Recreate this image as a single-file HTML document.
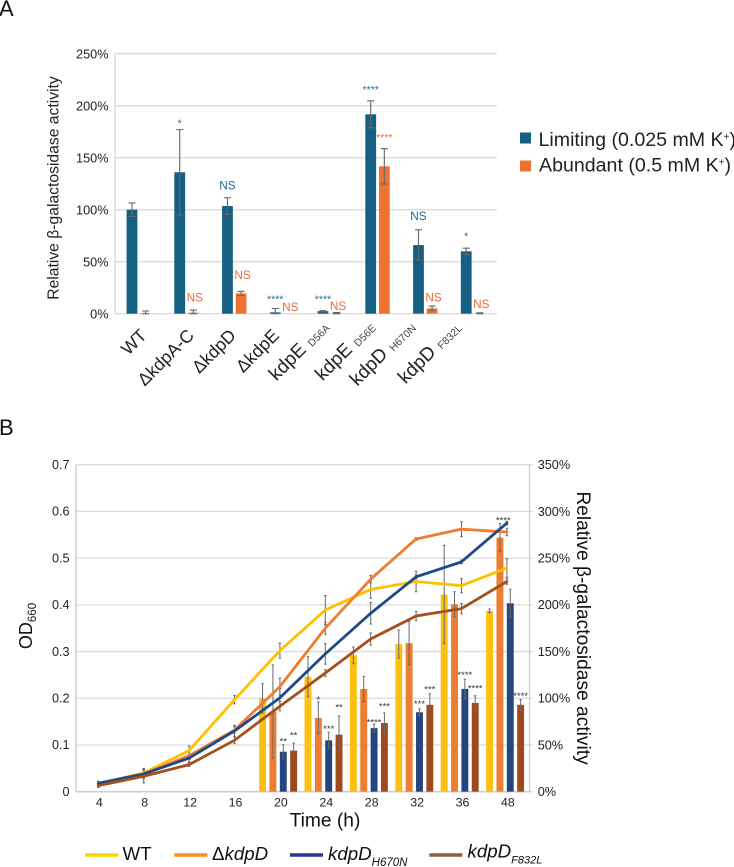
<!DOCTYPE html>
<html lang="en">
<head>
<meta charset="utf-8">
<title>Relative β-galactosidase activity and growth</title>
<style>
html,body{margin:0;padding:0;background:#fff;width:734px;height:867px;overflow:hidden}
svg{display:block;font-family:"Liberation Sans",Arial,sans-serif}
</style>
</head>
<body>
<svg id="fig" xmlns="http://www.w3.org/2000/svg" width="734" height="867" viewBox="0 0 734 867">
  <text x="-1" y="16" font-size="22" fill="#111">A</text>
  <text x="-1" y="435" font-size="22" fill="#111">B</text>

  <g id="chartA"></g>
  <text transform="translate(58.5,188) rotate(-90)" text-anchor="middle" font-size="15.7" fill="#222">Relative β-galactosidase activity</text>

  <g>
    <rect x="520" y="132.5" width="11" height="11" fill="#156082"/>
    <text x="538.5" y="146" font-size="19.6" fill="#222">Limiting (0.025 mM K<tspan font-size="10" dy="-6">+</tspan><tspan dy="6">)</tspan></text>
    <rect x="520" y="160.5" width="11" height="11" fill="#ed7430"/>
    <text x="539" y="171.7" font-size="19.6" fill="#222">Abundant (0.5 mM K<tspan font-size="10" dy="-6">+</tspan><tspan dy="6">)</tspan></text>
  </g>

  <g id="chartB"></g>
  <text transform="translate(32,626) rotate(-90)" text-anchor="middle" font-size="18" fill="#111">OD<tspan font-size="11.5" dy="4">660</tspan></text>
  <text transform="translate(577,628) rotate(90)" text-anchor="middle" font-size="19.2" fill="#111">Relative β-galactosidase activity</text>
  <text x="325" y="826.5" text-anchor="middle" font-size="19.2" fill="#111">Time (h)</text>

  <g>
    <line x1="85" x2="118.3" y1="855" y2="855" stroke="#ffd400" stroke-width="3.4"/>
    <text x="122.5" y="860" font-size="18.7" fill="#111">WT</text>
    <line x1="174.3" x2="207.3" y1="855" y2="855" stroke="#f7931e" stroke-width="3.4"/>
    <text x="212" y="860" font-size="18.7" fill="#111">Δ<tspan font-style="italic">kdpD</tspan></text>
    <line x1="290" x2="323" y1="855" y2="855" stroke="#2e3192" stroke-width="3.4"/>
    <text x="328" y="860" font-size="18.7" font-style="italic" fill="#111">kdpD<tspan font-size="11.5" dy="6">H670N</tspan></text>
    <line x1="429.3" x2="462.3" y1="855" y2="855" stroke="#8c6239" stroke-width="3.4"/>
    <text x="467.5" y="857.5" font-size="18.7" font-style="italic" fill="#111">kdpD<tspan font-size="11" dy="6">F832L</tspan></text>
  </g>
</svg>

<script>
// ---- Chart A data ----
const aCategories = ['WT', 'ΔkdpA-C', 'ΔkdpD', 'ΔkdpE', 'kdpE', 'kdpE', 'kdpD', 'kdpD'];
const aSubscripts = ['', '', '', '', 'D56A', 'D56E', 'H670N', 'F832L'];
const aTicks = [0, 50, 100, 150, 200, 250];
const aLimiting = [100, 136, 103.5, 1.3, 2.4, 191.7, 66, 60];
const aLimitingErr = [6.5, 41, 8, 3.7, 0.5, 13, 14.7, 3];
const aAbundant = [0.2, 1, 19.5, 0, 0.3, 141.7, 5.1, 0.1];
const aAbundantErr = [2.4, 2.5, 2, 0, 0.8, 17, 2.2, 0.8];
const aNoteCategory = [1, 2, 2, 1, 3, 3, 4, 4, 5, 5, 6, 6, 7, 7];
const aNoteSeries = [0, 0, 1, 1, 0, 1, 0, 1, 0, 1, 0, 1, 0, 1];
const aNoteText = ['*', 'NS', 'NS', 'NS', '****', 'NS', '****', 'NS', '****', '****', 'NS', 'NS', '*', 'NS'];
const aNoteLevel = [185, 123.5, 37.5, 16, 15.5, 6.5, 15.5, 7.5, 217, 171, 94, 16, 76, 9.5];

// ---- Chart B data ----
const bTimes = ['4', '8', '12', '16', '20', '24', '28', '32', '36', '48'];
const bLeftTicks = ['0', '0.1', '0.2', '0.3', '0.4', '0.5', '0.6', '0.7'];
const bRightTicks = ['0%', '50%', '100%', '150%', '200%', '250%', '300%', '350%'];
const bSeriesNames = ['wt', 'delta-kdpd', 'kdpd-h670n', 'kdpd-f832l'];
const odWT = [0.017, 0.04, 0.088, 0.197, 0.302, 0.389, 0.433, 0.45, 0.441, 0.479];
const odDelta = [0.014, 0.038, 0.077, 0.132, 0.225, 0.35, 0.455, 0.541, 0.562, 0.556];
const odH670N = [0.018, 0.038, 0.072, 0.13, 0.201, 0.295, 0.382, 0.46, 0.492, 0.575];
const odF832L = [0.013, 0.033, 0.058, 0.11, 0.183, 0.254, 0.327, 0.376, 0.392, 0.45];
const odWTErr = [0.005, 0.01, 0.01, 0.009, 0.016, 0.031, 0.019, 0.022, 0.015, 0.02];
const odDeltaErr = [0.005, 0.008, 0.008, 0.008, 0.018, 0.013, 0.008, 0.003, 0.016, 0.008];
const odH670NErr = [0.004, 0.01, 0.008, 0.012, 0.02, 0.022, 0.023, 0.004, 0.004, 0.004];
const odF832LErr = [0.004, 0.014, 0.004, 0.007, 0.01, 0.007, 0.013, 0.01, 0.011, 0.006];
const barGroups = ['20', '24', '28', '32', '36', '48'];
const barWT = [100, 123, 146, 158, 211, 193.5];
const barDelta = [85.7, 79, 110, 159, 200.6, 272];
const barH670N = [42.8, 55, 68, 85, 110, 201.7];
const barF832L = [44, 61, 73.5, 93, 95, 93];
const barWTErr = [15.7, 21.6, 9, 15, 52.7, 2];
const barDeltaErr = [50, 17, 13.4, 23, 13.4, 15];
const barH670NErr = [7.5, 8.6, 4.5, 3.6, 10.4, 15];
const barF832LErr = [8, 20, 10.7, 12, 7.7, 5.7];
const starGroup = [0, 0, 1, 1, 1, 2, 2, 3, 3, 4, 4, 5, 5];
const starSeries = [2, 3, 1, 2, 3, 2, 3, 2, 3, 2, 3, 2, 3];
const starText = ['**', '**', '*', '***', '**', '****', '***', '***', '***', '****', '****', '****', '****'];
const starLevel = [56.4, 63, 100.6, 70, 93, 76.8, 94, 96.4, 112, 127.4, 113, 293, 105];

// ---- helpers ----
const NS_URI = 'http://www.w3.org/2000/svg';
function mk(parent, tag, attrs, txt) {
  const el = document.createElementNS(NS_URI, tag);
  for (const k in attrs) el.setAttribute(k, attrs[k]);
  if (txt !== undefined) el.textContent = txt;
  parent.appendChild(el);
  
  return el;
}

// ---- Chart A ----
(function () {
  const g = document.getElementById('chartA');
  const x0 = 115, x1 = 497, y0 = 313.7, pxPerPct = 1.04;
  const band = (x1 - x0) / aCategories.length;
  const yA = v => y0 - v * pxPerPct;
  const center = i => x0 + band * (i + 0.5);
  const barX = (i, s) => center(i) + (s === 0 ? -6.9 : 6.7);
  const colors = ['#156082', '#ed7430'];
  const noteColors = ['#1f6a8c', '#f0683a'];
  const endNudge = [9, 8.4, 2.6, -2, 0, -1.6, -9.4, -11];

  aTicks.forEach(t => {
    const ln = mk(g, 'line', { x1: x0, x2: x1, y1: yA(t), y2: yA(t), stroke: '#dcdcdc', 'stroke-width': 1.4 });
    
    const lb = mk(g, 'text', { x: 108.5, y: yA(t) + 4.6, 'text-anchor': 'end', 'font-size': 12.7, fill: '#222' }, t + '%');
    
  });
  const axis = mk(g, 'line', { x1: x0, x2: x0, y1: yA(250), y2: y0, stroke: '#dcdcdc', 'stroke-width': 1.4 });
  

  function bars(vals, errs, s, nm) {
    vals.forEach((v, i) => {
      const cx = barX(i, s);
      const r = mk(g, 'rect', { x: cx - 5.4, y: yA(v), width: 10.8, height: v * pxPerPct, fill: colors[s] });
      
      if (errs[i] > 0) {
        const top = yA(v + errs[i]), bot = yA(Math.max(v - errs[i], 0));
        const e = mk(g, 'path', { d: `M${cx - 3.5} ${top}H${cx + 3.5}M${cx} ${top}V${bot}M${cx - 3.5} ${bot}H${cx + 3.5}`, stroke: '#666', 'stroke-width': 1.1, fill: 'none' });
        
      }
    });
  }
  bars(aLimiting, aLimitingErr, 0, 'limiting');
  bars(aAbundant, aAbundantErr, 1, 'abundant');

  aNoteText.forEach((t, k) => {
    const s = aNoteSeries[k], i = aNoteCategory[k];
    const isStar = t.charAt(0) === '*';
    const cx = barX(i, s) + (t === 'NS' && s === 1 ? 1.5 : 0);
    const n = mk(g, 'text', {
      x: cx, y: yA(aNoteLevel[k]) + (isStar ? 5 : 4.3), 'text-anchor': 'middle',
      'font-size': isStar ? 10.5 : 11.8, fill: noteColors[s]
    }, t);
    
  });

  aCategories.forEach((c, i) => {
    const hasSub = aSubscripts[i] !== '';
    const ex = center(i) + endNudge[i], ey = hasSub ? 328 : 336.5;
    const t = mk(g, 'text', { transform: `translate(${ex},${ey}) rotate(-45)`, 'text-anchor': 'end', 'font-size': hasSub ? 19 : 17.8, fill: '#222' });
    
    t.appendChild(document.createTextNode(c));
    if (hasSub) {
      const s = document.createElementNS(NS_URI, 'tspan');
      s.setAttribute('font-size', '10.5');
      s.setAttribute('fill', '#444');
      s.setAttribute('dx', '6');
      s.setAttribute('dy', '1');
      s.textContent = aSubscripts[i];
      t.appendChild(s);
    }
  });
})();

// ---- Chart B ----
(function () {
  const g = document.getElementById('chartB');
  const x0 = 76, x1 = 529.5, y0 = 791.7, yTop = 464.7;
  const pxPerOD = (y0 - yTop) / 0.7;
  const pxPerPct = (y0 - yTop) / 350;
  const yOD = v => y0 - v * pxPerOD;
  const yPct = v => y0 - v * pxPerPct;
  const step = 45.4;
  const xLine = i => 98.3 + step * i;
  const lineColors = ['#ffc000', '#ed7d31', '#1f4a85', '#a5501c'];
  const barColors = ['#fdc010', '#ed7d31', '#24457d', '#9e4a1c'];

  bLeftTicks.forEach((t, i) => {
    const y = yOD(i / 10);
    if (i > 0) {
      const ln = mk(g, 'line', { x1: x0, x2: x1, y1: y, y2: y, stroke: '#dcdcdc', 'stroke-width': 1.3 });
      
    }
    const lb = mk(g, 'text', { x: 69.5, y: y + 4.2, 'text-anchor': 'end', 'font-size': 12.6, fill: '#222' }, t);
    
    const tk = mk(g, 'line', { x1: x1, x2: x1 + 3, y1: y, y2: y, stroke: '#c8c8c8', 'stroke-width': 1 });
    
    const rb = mk(g, 'text', { x: 537.7, y: y + 4.4, 'font-size': 12.7, fill: '#222' }, bRightTicks[i]);
    
  });
  const la = mk(g, 'line', { x1: x0, x2: x0, y1: yTop, y2: y0, stroke: '#d4d4d4', 'stroke-width': 1.6 });
  
  const ra = mk(g, 'line', { x1: x1, x2: x1, y1: yTop, y2: y0, stroke: '#c8c8c8', 'stroke-width': 1.2 });
  
  const ba = mk(g, 'line', { x1: x0, x2: x1, y1: y0, y2: y0, stroke: '#cfcfcf', 'stroke-width': 1.6 });
  

  bTimes.forEach((t, i) => {
    const lb = mk(g, 'text', { x: xLine(i) + 1, y: 806.5, 'text-anchor': 'middle', 'font-size': 12.4, fill: '#222' }, t);
    
  });

  const barValues = [barWT, barDelta, barH670N, barF832L];
  const barErrs = [barWTErr, barDeltaErr, barH670NErr, barF832LErr];
  const firstBarTime = bTimes.indexOf(barGroups[0]);
  const barX = (grp, s) => xLine(firstBarTime + grp) - 1.8 + (s - 1.5) * 10.35;

  function errBar(cx, top, bot, cap, nameStr) {
    const e = mk(g, 'path', { d: `M${cx - cap} ${top}H${cx + cap}M${cx} ${top}V${bot}M${cx - cap} ${bot}H${cx + cap}`, stroke: '#6a6a6a', 'stroke-width': 1, fill: 'none' });
    
  }

  barValues.forEach((vals, s) => {
    vals.forEach((v, k) => {
      const cx = barX(k, s);
      const r = mk(g, 'rect', { x: cx - 3.45, y: yPct(v), width: 6.9, height: v * pxPerPct, fill: barColors[s] });
      
    });
  });
  barValues.forEach((vals, s) => {
    vals.forEach((v, k) => {
      errBar(barX(k, s), yPct(v + barErrs[s][k]), yPct(v - barErrs[s][k]), 1.2, 'bar-error-' + bSeriesNames[s] + '-' + barGroups[k] + 'h');
    });
  });

  const lineValues = [odWT, odDelta, odH670N, odF832L];
  const lineErrs = [odWTErr, odDeltaErr, odH670NErr, odF832LErr];
  lineValues.forEach((vals, s) => {
    vals.forEach((v, i) => {
      errBar(xLine(i), yOD(v + lineErrs[s][i]), yOD(Math.max(v - lineErrs[s][i], 0)), 1.3, 'line-error-' + bSeriesNames[s] + '-' + bTimes[i] + 'h');
    });
  });
  lineValues.forEach((vals, s) => {
    const pts = vals.map((v, i) => xLine(i) + ',' + yOD(v)).join(' ');
    const pl = mk(g, 'polyline', { points: pts, fill: 'none', stroke: lineColors[s], 'stroke-width': 2.8, 'stroke-linejoin': 'round', 'stroke-linecap': 'round' });
    
  });

  starText.forEach((t, k) => {
    const grp = starGroup[k], s = starSeries[k];
    const isTopBlue = starLevel[k] > 250;
    const cx = barX(grp, s) + (isTopBlue ? -7 : 0);
    const st = mk(g, 'text', { x: cx, y: yPct(starLevel[k]) + 5.5, 'text-anchor': 'middle', 'font-size': 9.5, fill: '#333' }, t);
    
  });
})();
</script>
</body>
</html>
